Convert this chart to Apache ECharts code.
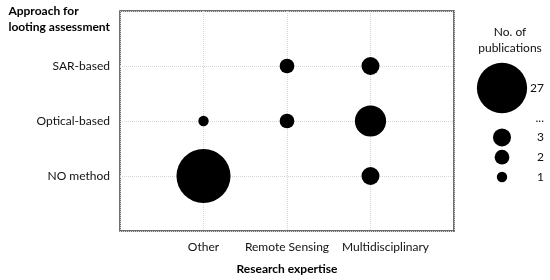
<!DOCTYPE html>
<html>
<head>
<meta charset="utf-8">
<script src="https://cdn.jsdelivr.net/npm/echarts@6/dist/echarts.min.js"></script>
<style>
  html, body { margin: 0; padding: 0; background: #fff; }
  #chart { width: 550px; height: 280px; }
</style>
</head>
<body>
<div id="chart"></div>
<script>
// x categories (research expertise)
const expertise = ['Other', 'Remote Sensing', 'Multidisciplinary'];
// y categories (approach for looting assessment), bottom to top
const approaches = ['NO method', 'Optical-based', 'SAR-based'];
// [expertise index, approach index, number of publications]
const publications = [
  [0, 0, 27],
  [0, 1, 1],
  [1, 1, 2],
  [1, 2, 2],
  [2, 0, 3],
  [2, 1, 9],
  [2, 2, 3]
];
// size legend, top to bottom (blank rows are spacing)
const legendRows = ['27', '', '', '...', '', '3', '', '2', '', '1'];
const legendValues = [27, 3, 2, 1];

const FONT = 'Lato, "Open Sans", sans-serif';
// bubble area proportional to count
const bubbleSize = v => 10.4 * Math.sqrt(v);

const chart = echarts.init(document.getElementById('chart'));

chart.setOption({
  animation: false,
  textStyle: { fontFamily: FONT },
  title: {
    text: 'Approach for\nlooting assessment',
    right: 440,
    top: 3,
    padding: 0,
    textStyle: {
      fontFamily: FONT,
      fontSize: 12,
      fontWeight: 'bold',
      color: '#000',
      lineHeight: 16
    }
  },
  graphic: [
    {
      type: 'text',
      x: 510,
      y: 24,
      style: {
        text: 'No. of\npublications',
        textAlign: 'center',
        fontFamily: FONT,
        fontSize: 12,
        lineHeight: 16,
        fill: '#111'
      }
    }
  ],
  grid: [
    {
      left: 120,
      right: 96,
      top: 11,
      bottom: 47,
      show: true,
      borderColor: '#404040',
      borderWidth: 1.5
    },
    {
      left: 480,
      width: 44,
      top: 88,
      height: 89
    }
  ],
  xAxis: [
    {
      type: 'value',
      min: 0,
      max: 4,
      interval: 1,
      name: 'Research expertise',
      nameLocation: 'middle',
      nameGap: 32,
      nameTextStyle: { fontSize: 12, fontWeight: 'bold', color: '#000' },
      axisLine: { show: false },
      axisTick: { show: false },
      axisLabel: {
        margin: 10,
        fontSize: 12,
        color: '#111',
        showMinLabel: false,
        showMaxLabel: false,
        formatter: v => {
          const name = expertise[v - 1] || '';
          return v === 3 ? '{shift|' + name + '}' : name;
        },
        rich: {
          shift: { fontSize: 12, color: '#111', padding: [0, 0, 0, 30] }
        }
      },
      splitLine: { lineStyle: { color: '#d6d6d6', type: 'dotted', width: 1 } }
    },
    {
      gridIndex: 1,
      type: 'value',
      min: 0,
      max: 2,
      show: false
    }
  ],
  yAxis: [
    {
      type: 'value',
      min: 0,
      max: 4,
      interval: 1,
      axisLine: { show: false },
      axisTick: { show: false },
      axisLabel: {
        margin: 10,
        fontSize: 12,
        color: '#111',
        showMinLabel: false,
        showMaxLabel: false,
        formatter: v => approaches[v - 1] || ''
      },
      splitLine: { lineStyle: { color: '#d6d6d6', type: 'dotted', width: 1 } }
    },
    {
      gridIndex: 1,
      type: 'category',
      data: legendRows,
      inverse: true,
      boundaryGap: false,
      position: 'right',
      axisLine: { show: false },
      axisTick: { show: false },
      splitLine: { show: false },
      axisLabel: {
        interval: 0,
        align: 'right',
        margin: 20,
        fontSize: 12,
        color: '#111'
      }
    }
  ],
  series: [
    {
      type: 'scatter',
      data: publications.map(d => [d[0] + 1, d[1] + 1, d[2]]),
      symbolSize: d => bubbleSize(d[2]),
      itemStyle: { color: '#000', opacity: 1 }
    },
    {
      type: 'scatter',
      xAxisIndex: 1,
      yAxisIndex: 1,
      data: legendValues.map(v => [1, String(v), v]),
      symbolSize: d => bubbleSize(d[2]) * (d[2] > 20 ? 0.93 : 1),
      itemStyle: { color: '#000', opacity: 1 }
    }
  ]
});
</script>
</body>
</html>
